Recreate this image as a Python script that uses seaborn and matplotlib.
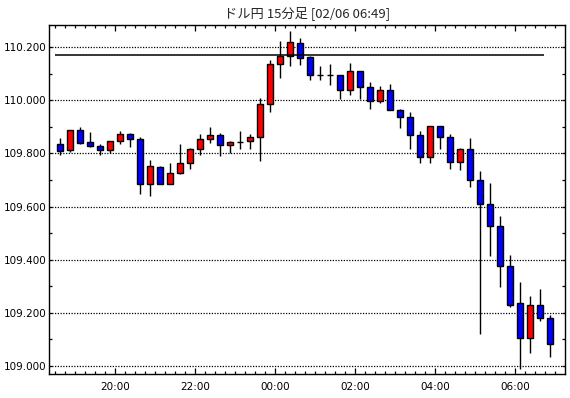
import numpy as np
import pandas as pd
import matplotlib
matplotlib.use("Agg")
import matplotlib.pyplot as plt
import seaborn as sns

# 15-minute USD/JPY bars, 18:30 -> 06:45
opens = [109.834, 109.811, 109.887, 109.842, 109.826, 109.814, 109.845, 109.872, 109.853, 109.683,
         109.750, 109.686, 109.725, 109.764, 109.815, 109.853, 109.868, 109.830, 109.843, 109.845,
         109.860, 109.984, 110.135, 110.165, 110.214, 110.161, 110.096, 110.096, 110.094, 110.037,
         110.109, 110.048, 109.996, 110.037, 109.962, 109.936, 109.868, 109.785, 109.902, 109.860,
         109.766, 109.815, 109.699, 109.608, 109.525, 109.377, 109.236, 109.106, 109.228, 109.179]
highs = [109.857, 109.889, 109.900, 109.880, 109.835, 109.845, 109.884, 109.875, 109.860, 109.774,
         109.752, 109.764, 109.835, 109.821, 109.873, 109.898, 109.876, 109.846, 109.884, 109.874,
         110.008, 110.150, 110.223, 110.260, 110.234, 110.166, 110.129, 110.136, 110.095, 110.140,
         110.110, 110.068, 110.053, 110.061, 109.966, 109.954, 109.883, 109.902, 109.903, 109.872,
         109.821, 109.857, 109.734, 109.688, 109.564, 109.418, 109.316, 109.263, 109.288, 109.192]
lows = [109.793, 109.806, 109.836, 109.825, 109.795, 109.800, 109.837, 109.825, 109.649, 109.641,
        109.684, 109.686, 109.723, 109.742, 109.795, 109.840, 109.791, 109.800, 109.817, 109.817,
        109.772, 109.954, 110.085, 110.130, 110.133, 110.077, 110.077, 110.058, 110.006, 110.021,
        110.006, 109.968, 109.988, 109.962, 109.896, 109.817, 109.765, 109.765, 109.817, 109.742,
        109.738, 109.674, 109.121, 109.415, 109.298, 109.223, 108.990, 109.048, 109.170, 109.033]
closes = [109.810, 109.887, 109.840, 109.826, 109.814, 109.845, 109.872, 109.853, 109.683, 109.751,
          109.686, 109.725, 109.764, 109.815, 109.853, 109.868, 109.830, 109.842, 109.843, 109.860,
          109.984, 110.135, 110.165, 110.218, 110.160, 110.094, 110.096, 110.096, 110.037, 110.109,
          110.048, 109.996, 110.037, 109.962, 109.936, 109.868, 109.785, 109.902, 109.860, 109.766,
          109.815, 109.699, 109.608, 109.525, 109.377, 109.231, 109.106, 109.228, 109.179, 109.082]
ref_level = 110.172
time_labels = ["20:00", "22:00", "00:00", "02:00", "04:00", "06:00"]
price_ticks = [109.0, 109.2, 109.4, 109.6, 109.8, 110.0, 110.2]

df = pd.DataFrame({"open": opens, "high": highs, "low": lows, "close": closes})
df["i"] = np.arange(len(df))
df["color"] = np.where(df["close"] >= df["open"], "#ff0000", "#0000ff")

sns.set_style("ticks")
plt.rcParams["font.family"] = ["DejaVu Sans"]

fig = plt.figure(figsize=(5.7, 3.98), dpi=100)
ax = fig.add_axes([49 / 570, 1 - 374 / 398, 516 / 570, 349 / 398])

# grid
for p in price_ticks:
    ax.axhline(p, color="black", lw=0.9, ls=(0, (1, 1.2)), zorder=1)

# wicks + bodies
ax.vlines(df["i"], df["low"], df["high"], color="black", lw=1.0, zorder=2)
body_lo = df[["open", "close"]].min(axis=1)
body_h = (df["close"] - df["open"]).abs()
ax.bar(df["i"], body_h, bottom=body_lo, width=0.68, color=df["color"],
       edgecolor="black", linewidth=1.0, zorder=3)

# reference line
ax.hlines(ref_level, df["i"].iloc[0] - 0.5, df["i"].iloc[-1] - 0.6, color="black", lw=1.1, zorder=4)

ax.set_xlim(-1.1, 50.5)
ax.set_ylim(108.970, 110.283)

# ticks
ax.set_yticks(price_ticks)
ax.set_yticklabels([f"{p:.3f}" for p in price_ticks])
ax.set_yticks(np.arange(109.1, 110.25, 0.2), minor=True)
major_x = [5.5 + 8 * k for k in range(len(time_labels))]
ax.set_xticks(major_x)
ax.set_xticklabels(time_labels)
ax.set_xticks(np.arange(-0.5, 50.5, 1.0), minor=True)
ax.tick_params(axis="both", which="both", direction="in", top=True, right=True,
               color="black", labelsize=7.5, labelcolor="black", width=0.9)
ax.tick_params(axis="x", which="major", length=4, pad=6)
ax.tick_params(axis="x", which="minor", length=2)
ax.tick_params(axis="y", which="both", length=2.5, pad=2)
for s in ax.spines.values():
    s.set_color("black")
    s.set_linewidth(1.0)

fig.text((49 + 565) / 2 / 570, 1 - 13 / 398, "ドル円 15分足 [02/06 06:49]",
         ha="center", va="center", fontsize=9.5,
         family=["Noto Sans CJK JP", "DejaVu Sans"])

fig.savefig("out.png", dpi=100)
